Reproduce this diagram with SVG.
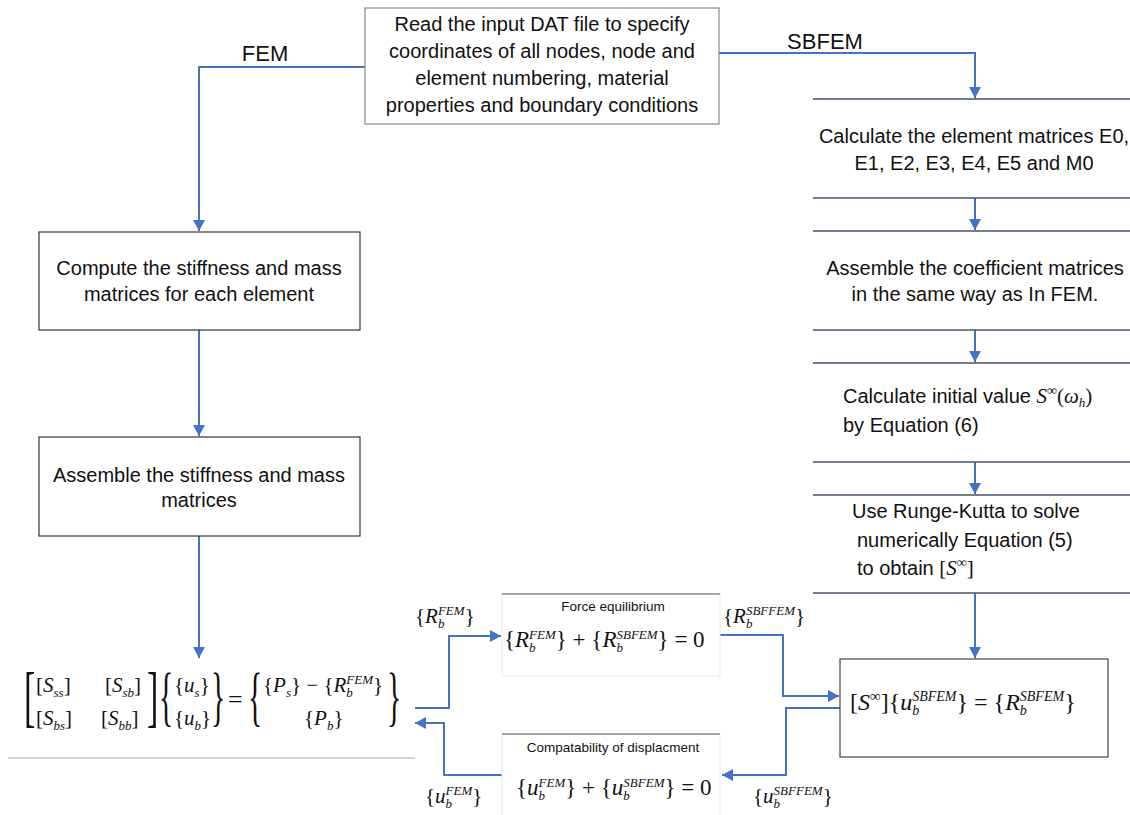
<svg xmlns="http://www.w3.org/2000/svg" width="1130" height="815" viewBox="0 0 1130 815">
<defs>
<marker id="ah" markerUnits="userSpaceOnUse" markerWidth="13" markerHeight="13" refX="11" refY="6" orient="auto">
<path d="M0,0 L11,6 L0,12 z" fill="#4472C4"/>
</marker>
<style>
.t{font-family:"Liberation Sans",Arial,sans-serif;font-size:20px;fill:#111}
.c{text-anchor:middle}
.lbl{font-family:"Liberation Sans",Arial,sans-serif;font-size:22px;fill:#111}
.sm{font-family:"Liberation Sans",Arial,sans-serif;font-size:13.5px;fill:#111;text-anchor:middle}
.m{font-family:"Liberation Serif","DejaVu Serif",serif;font-size:21px;fill:#111}
.m22{font-size:23px}
.i{font-style:italic}
.s{font-size:13px;font-style:italic}
.big{font-family:"Liberation Serif","DejaVu Serif",serif;fill:#111}
.box{fill:#fff;stroke:#333;stroke-width:1.2}
.gbox{fill:#fff;stroke:#8a8a8a;stroke-width:1.2}
.fbox{fill:#fff;stroke:#e8e8e8;stroke-width:1}
.gl{stroke:#8a8a8a;stroke-width:1.5;fill:none}
.rl{stroke:#44546a;stroke-width:1.4;fill:none}
.conn{stroke:#4472C4;stroke-width:2;fill:none;marker-end:url(#ah)}
</style>
</defs>
<rect width="1130" height="815" fill="#fff"/>

<g id="connectors">
<path class="conn" d="M365,67 H199 V231"/>
<path class="conn" d="M719,53 H975 V98"/>
<path class="conn" d="M199,330 V436"/>
<path class="conn" d="M199,536 V658"/>
<path class="conn" d="M975,198 V230"/>
<path class="conn" d="M975,330 V362"/>
<path class="conn" d="M975,462 V494"/>
<path class="conn" d="M975,593 V658"/>
<path class="conn" d="M415,708 H449 V636 H501"/>
<path class="conn" d="M502,775 H444 V723 H415"/>
<path class="conn" d="M720,635 H783 V696 H839"/>
<path class="conn" d="M840,708 H786 V775 H722"/>
<text class="lbl c" x="265" y="61">FEM</text>
<text class="lbl c" x="825" y="49">SBFEM</text>
<text class="m" x="415" y="623" style="font-size:21px">{<tspan class="i">R</tspan><tspan class="s" dy="5">b</tspan><tspan class="s" dx="-6.5" dy="-13">FEM</tspan><tspan dy="8">}</tspan></text>
<text class="m" x="723" y="623" style="font-size:21px">{<tspan class="i">R</tspan><tspan class="s" dy="5">b</tspan><tspan class="s" dx="-6.5" dy="-13">SBFFEM</tspan><tspan dy="8">}</tspan></text>
<text class="m" x="425" y="803" style="font-size:21px">{<tspan class="i">u</tspan><tspan class="s" dy="5">b</tspan><tspan class="s" dx="-6.5" dy="-13">FEM</tspan><tspan dy="8">}</tspan></text>
<text class="m" x="753" y="803" style="font-size:21px">{<tspan class="i">u</tspan><tspan class="s" dy="5">b</tspan><tspan class="s" dx="-6.5" dy="-13">SBFFEM</tspan><tspan dy="8">}</tspan></text>
</g>

<g id="n-read">
<rect class="gbox" x="365" y="8" width="354" height="116"/>
<text class="t c" x="542" y="31">Read the input DAT file to specify</text>
<text class="t c" x="542" y="58">coordinates of all nodes, node and</text>
<text class="t c" x="542" y="85">element numbering, material</text>
<text class="t c" x="542" y="112">properties and boundary conditions</text>
</g>

<g id="n-compute">
<rect class="box" x="39" y="232" width="321" height="98"/>
<text class="t c" x="199" y="275">Compute the stiffness and mass</text>
<text class="t c" x="199" y="301">matrices for each element</text>
</g>

<g id="n-assemble">
<rect class="box" x="39" y="437" width="321" height="99"/>
<text class="t c" x="199" y="482">Assemble the stiffness and mass</text>
<text class="t c" x="199" y="507">matrices</text>
</g>

<g id="n-matrix">
<path class="gl" d="M8,758 H415" style="stroke:#c4c4c4"/>
<text class="big" font-size="68" transform="translate(24,719) scale(0.5,1)">[</text>
<text class="big" font-size="68" transform="translate(147,719) scale(0.5,1)">]</text>
<text class="big" font-size="66" transform="translate(159,718) scale(0.45,1)">{</text>
<text class="big" font-size="66" transform="translate(211,718) scale(0.45,1)">}</text>
<text class="big" font-size="66" transform="translate(248,718) scale(0.45,1)">{</text>
<text class="big" font-size="66" transform="translate(387,718) scale(0.45,1)">}</text>
<text class="m" x="36" y="692">[<tspan class="i">S</tspan><tspan class="s" dy="5">ss</tspan><tspan dy="-5">]</tspan></text>
<text class="m" x="105" y="692">[<tspan class="i">S</tspan><tspan class="s" dy="5">sb</tspan><tspan dy="-5">]</tspan></text>
<text class="m" x="36" y="725">[<tspan class="i">S</tspan><tspan class="s" dy="5">bs</tspan><tspan dy="-5">]</tspan></text>
<text class="m" x="101" y="725">[<tspan class="i">S</tspan><tspan class="s" dy="5">bb</tspan><tspan dy="-5">]</tspan></text>
<text class="m" x="174" y="692">{<tspan class="i">u</tspan><tspan class="s" dy="5">s</tspan><tspan dy="-5">}</tspan></text>
<text class="m" x="174" y="725">{<tspan class="i">u</tspan><tspan class="s" dy="5">b</tspan><tspan dy="-5">}</tspan></text>
<text class="m" x="228" y="708" style="font-size:26px">=</text>
<text class="m" x="263" y="692">{<tspan class="i">P</tspan><tspan class="s" dy="5">s</tspan><tspan dy="-5">} − {</tspan><tspan class="i">R</tspan><tspan class="s" dy="5">b</tspan><tspan class="s" dx="-6.5" dy="-13">FEM</tspan><tspan dy="8">}</tspan></text>
<text class="m" x="304" y="725">{<tspan class="i">P</tspan><tspan class="s" dy="5">b</tspan><tspan dy="-5">}</tspan></text>
</g>

<g id="n-calcE">
<path class="rl" d="M813,99 H1130 M813,198 H1130"/>
<text class="t c" x="974" y="143">Calculate the element matrices E0,</text>
<text class="t c" x="974" y="170">E1, E2, E3, E4, E5 and M0</text>
</g>

<g id="n-coef">
<path class="rl" d="M813,231 H1130 M813,330 H1130"/>
<text class="t c" x="975" y="275">Assemble the coefficient matrices</text>
<text class="t c" x="975" y="301">in the same way as In FEM.</text>
</g>

<g id="n-init">
<path class="rl" d="M813,363 H1130 M813,462 H1130"/>
<text class="t" x="843" y="403">Calculate initial value <tspan class="m i" style="font-size:21px">S</tspan><tspan class="m" style="font-size:14px" dy="-8">∞</tspan><tspan class="m" style="font-size:21px" dy="8">(</tspan><tspan class="m i" style="font-size:21px">ω</tspan><tspan class="m s" dy="4">h</tspan><tspan class="m" style="font-size:21px" dy="-4">)</tspan></text>
<text class="t" x="843" y="432">by Equation (6)</text>
</g>

<g id="n-rk">
<path class="rl" d="M813,495 H1130 M813,593 H1130"/>
<text class="t" x="852" y="518">Use Runge-Kutta to solve</text>
<text class="t" x="857" y="547">numerically Equation (5)</text>
<text class="t" x="857" y="575">to obtain <tspan class="m" style="font-size:21px">[</tspan><tspan class="m i" style="font-size:21px">S</tspan><tspan class="m" style="font-size:14px" dy="-8">∞</tspan><tspan class="m" style="font-size:21px" dy="8">]</tspan></text>
</g>

<g id="n-force">
<rect class="fbox" x="502" y="594" width="218" height="82"/>
<path class="gl" d="M502,594 H720"/>
<text class="sm" x="613" y="611">Force equilibrium</text>
<text class="m m22" x="504" y="647">{<tspan class="i">R</tspan><tspan class="s" dy="5">b</tspan><tspan class="s" dx="-6.5" dy="-13">FEM</tspan><tspan dy="8">} + {</tspan><tspan class="i">R</tspan><tspan class="s" dy="5">b</tspan><tspan class="s" dx="-6.5" dy="-13">SBFEM</tspan><tspan dy="8">} = 0</tspan></text>
</g>

<g id="n-compat">
<rect class="fbox" x="502" y="734" width="218" height="90"/>
<path class="gl" d="M502,734 H720"/>
<text class="sm" x="613" y="752">Compatability of displacment</text>
<text class="m m22" x="516" y="795">{<tspan class="i">u</tspan><tspan class="s" dy="5">b</tspan><tspan class="s" dx="-6.5" dy="-13">FEM</tspan><tspan dy="8">} + {</tspan><tspan class="i">u</tspan><tspan class="s" dy="5">b</tspan><tspan class="s" dx="-6.5" dy="-13">SBFEM</tspan><tspan dy="8">} = 0</tspan></text>
</g>

<g id="n-sinf">
<rect class="box" x="840" y="659" width="268" height="98" style="stroke:#444"/>
<text class="m" x="850" y="710" style="font-size:24px">[<tspan class="i">S</tspan><tspan style="font-size:15px" dy="-9">∞</tspan><tspan dy="9">]{</tspan><tspan class="i">u</tspan><tspan class="s" style="font-size:14px" dy="5">b</tspan><tspan class="s" style="font-size:14px" dx="-7" dy="-14">SBFEM</tspan><tspan dy="9">} = {</tspan><tspan class="i">R</tspan><tspan class="s" style="font-size:14px" dy="5">b</tspan><tspan class="s" style="font-size:14px" dx="-7" dy="-14">SBFEM</tspan><tspan dy="9">}</tspan></text>
</g>
</svg>
